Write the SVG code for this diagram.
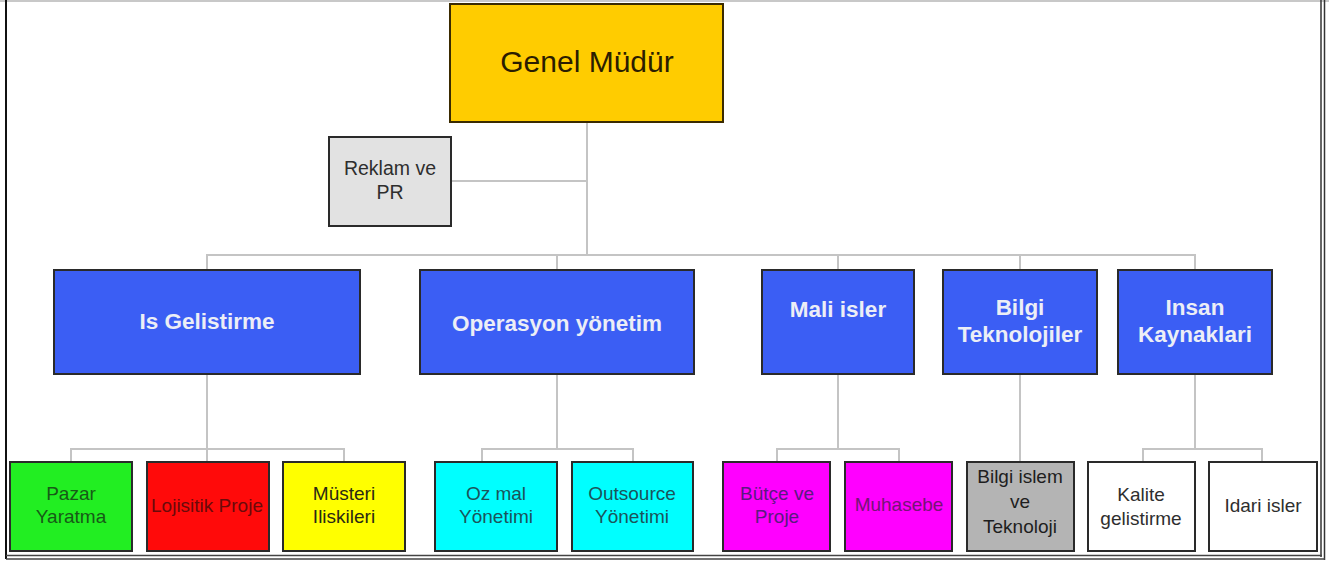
<svg xmlns="http://www.w3.org/2000/svg" width="1329" height="562" viewBox="0 0 1329 562">
<style>
.box{stroke:#2a2a2a;stroke-width:2}
.l2{fill:#3b5ef4}
.t{font-family:"Liberation Sans",Arial,sans-serif;text-anchor:middle}
.t2{font-size:22.5px;font-weight:bold;fill:#eceef6}
.t3{font-size:19px}
.conn{stroke:#c4c4c4;stroke-width:2;fill:none}
</style>
<rect x="0" y="0" width="1329" height="562" fill="#ffffff"/>
<line x1="0" y1="1" x2="1329" y2="1" stroke="#c8c8c8" stroke-width="2"/>
<line x1="6" y1="0" x2="6" y2="559" stroke="#111" stroke-width="2"/>
<line x1="1321" y1="0" x2="1321" y2="557" stroke="#333" stroke-width="1.5"/>
<line x1="1324.5" y1="0" x2="1324.5" y2="560" stroke="#333" stroke-width="1.5"/>
<line x1="6" y1="555.5" x2="1322" y2="555.5" stroke="#444" stroke-width="1.5"/>
<line x1="6" y1="559" x2="1325" y2="559" stroke="#444" stroke-width="1.5"/>

<g id="connectors">
<polyline class="conn" points="587,122 587,255"/>
<polyline class="conn" points="451,181 587,181"/>
<polyline class="conn" points="207,270 207,255 1195,255 1195,270"/>
<line class="conn" x1="557" y1="255" x2="557" y2="270"/>
<line class="conn" x1="838" y1="255" x2="838" y2="270"/>
<line class="conn" x1="1020" y1="255" x2="1020" y2="270"/>
<line class="conn" x1="207" y1="374" x2="207" y2="462"/>
<polyline class="conn" points="71,462 71,449 344,449 344,462"/>
<line class="conn" x1="557" y1="374" x2="557" y2="449"/>
<polyline class="conn" points="482,462 482,449 633,449 633,462"/>
<line class="conn" x1="838" y1="374" x2="838" y2="449"/>
<polyline class="conn" points="777,462 777,449 899,449 899,462"/>
<line class="conn" x1="1020" y1="374" x2="1020" y2="462"/>
<line class="conn" x1="1195" y1="374" x2="1195" y2="449"/>
<polyline class="conn" points="1143,462 1143,449 1262,449 1262,462"/>
</g>

<g id="genel-mudur">
<rect x="450" y="4" width="273" height="118" fill="#ffcc00" stroke="#3a2a00" stroke-width="2"/>
<text class="t" x="587" y="72" font-size="30" fill="#2b1d00">Genel Müdür</text>
</g>
<g id="reklam">
<rect class="box" x="329" y="137" width="122" height="89" fill="#e2e2e2"/>
<text class="t" x="390" y="175" font-size="19.5" fill="#2e2e2e">Reklam ve</text>
<text class="t" x="390" y="199" font-size="19.5" fill="#2e2e2e">PR</text>
</g>

<g id="is-gelistirme">
<rect class="box l2" x="54" y="270" width="306" height="104"/>
<text class="t t2" x="207" y="329">Is Gelistirme</text>
</g>
<g id="operasyon">
<rect class="box l2" x="420" y="270" width="274" height="104"/>
<text class="t t2" x="557" y="331">Operasyon yönetim</text>
</g>
<g id="mali-isler">
<rect class="box l2" x="762" y="270" width="152" height="104"/>
<text class="t t2" x="838" y="317">Mali isler</text>
</g>
<g id="bilgi-teknolojiler">
<rect class="box l2" x="943" y="270" width="154" height="104"/>
<text class="t t2" x="1020" y="315">Bilgi</text>
<text class="t t2" x="1020" y="342">Teknolojiler</text>
</g>
<g id="insan-kaynaklari">
<rect class="box l2" x="1118" y="270" width="154" height="104"/>
<text class="t t2" x="1195" y="315">Insan</text>
<text class="t t2" x="1195" y="342">Kaynaklari</text>
</g>

<g id="pazar">
<rect class="box" x="10" y="462" width="122" height="89" fill="#22ee22"/>
<text class="t t3" x="71" y="500" fill="#175a17">Pazar</text>
<text class="t t3" x="71" y="523" fill="#175a17">Yaratma</text>
</g>
<g id="lojisitik">
<rect class="box" x="147" y="462" width="122" height="89" fill="#ff0a0a"/>
<text class="t t3" x="207" y="512" fill="#6a0a0a">Lojisitik Proje</text>
</g>
<g id="musteri">
<rect class="box" x="283" y="462" width="122" height="89" fill="#ffff00"/>
<text class="t t3" x="344" y="500" fill="#2a2a14">Müsteri</text>
<text class="t t3" x="344" y="523" fill="#2a2a14">Iliskileri</text>
</g>
<g id="oz-mal">
<rect class="box" x="435" y="462" width="122" height="89" fill="#00ffff"/>
<text class="t t3" x="496" y="500" fill="#1b545a">Oz mal</text>
<text class="t t3" x="496" y="523" fill="#1b545a">Yönetimi</text>
</g>
<g id="outsource">
<rect class="box" x="572" y="462" width="121" height="89" fill="#00ffff"/>
<text class="t t3" x="632" y="500" fill="#1b545a">Outsource</text>
<text class="t t3" x="632" y="523" fill="#1b545a">Yönetimi</text>
</g>
<g id="butce">
<rect class="box" x="723" y="462" width="107" height="89" fill="#ff00ff"/>
<text class="t t3" x="777" y="500" fill="#5a1a80">Bütçe ve</text>
<text class="t t3" x="777" y="523" fill="#5a1a80">Proje</text>
</g>
<g id="muhasebe">
<rect class="box" x="845" y="462" width="107" height="89" fill="#ff00ff"/>
<text class="t t3" x="899" y="511" fill="#761476">Muhasebe</text>
</g>
<g id="bilgi-islem">
<rect class="box" x="967" y="462" width="107" height="89" fill="#b4b4b4"/>
<text class="t t3" x="1020" y="483" fill="#1e1e1e">Bilgi islem</text>
<text class="t t3" x="1020" y="508" fill="#1e1e1e">ve</text>
<text class="t t3" x="1020" y="533" fill="#1e1e1e">Teknoloji</text>
</g>
<g id="kalite">
<rect class="box" x="1088" y="462" width="107" height="89" fill="#ffffff"/>
<text class="t t3" x="1141" y="501" fill="#2e2e2e">Kalite</text>
<text class="t t3" x="1141" y="525" fill="#2e2e2e">gelistirme</text>
</g>
<g id="idari">
<rect class="box" x="1209" y="462" width="108" height="89" fill="#ffffff"/>
<text class="t t3" x="1263" y="512" fill="#2e2e2e">Idari isler</text>
</g>
</svg>
